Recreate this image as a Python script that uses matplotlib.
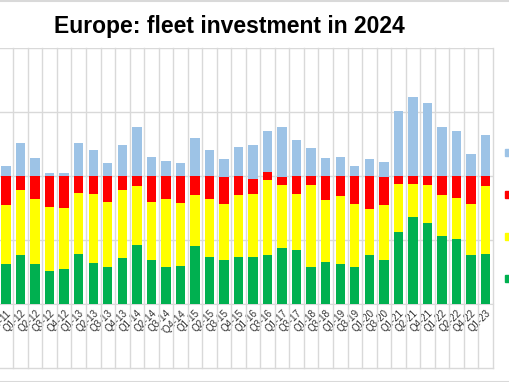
import matplotlib
matplotlib.use("Agg")
import matplotlib.pyplot as plt
import numpy as np
from matplotlib.lines import Line2D
from matplotlib.patches import Patch

plt.rcParams['font.family'] = ['Liberation Sans', 'DejaVu Sans']

# Survey quarters (one bar each)
quarters = ["Q4-11", "Q1-12", "Q2-12", "Q3-12", "Q4-12", "Q1-13", "Q2-13", "Q3-13",
            "Q4-13", "Q1-14", "Q2-14", "Q3-14", "'Q4-14", "Q1-15", "Q2-15", "Q3-15",
            "Q4-15", "Q1-16", "Q3-16", "Q1-17", "Q3-17", "Q1-18", "Q3-18", "Q1-19",
            "Q3-19", "Q1-20", "Q3-20", "Q1-21", "Q2-21", "Q4-21", "Q1-22", "Q2-22",
            "Q4-22", "Q1-23"]

# Shares in %
increase = [31, 38, 31, 26, 27, 39, 32, 29, 36, 46, 34, 29, 30, 45, 37, 34, 37,
            37, 38, 44, 42, 29, 33, 31, 29, 38, 34, 56, 68, 63, 53, 51, 38, 39]
stable = [46, 51, 51, 50, 48, 48, 54, 51, 53, 46, 46, 53, 49, 40, 45, 44, 48,
          49, 59, 49, 44, 64, 48, 53, 49, 36, 43, 38, 26, 30, 32, 32, 40, 53]
decrease = [23, 11, 18, 24, 25, 13, 14, 20, 11, 8, 20, 18, 21, 15, 18, 21, 15,
            12, 6, 6, 14, 7, 19, 16, 22, 26, 22, 6, 6, 7, 15, 17, 22, 8]
balance = [8, 26, 14, 2.5, 2, 26, 20, 10, 24, 38, 15, 12, 10, 30, 20, 14, 23,
           26, 32, 39, 28, 22, 14, 15, 7.5, 13, 12, 51, 62, 57, 38, 35, 17, 32]

c_green = "#00b050"
c_yellow = "#ffff00"
c_red = "#ff0000"
c_blue = "#9dc3e6"
c_grid = "#d9d9d9"

W, H = 510, 382
fig = plt.figure(figsize=(W / 100, H / 100), dpi=100)
# chart is cropped on the left, so the axes start just outside the figure
ax = fig.add_axes([-1.2 / W, 1 - 304 / H, 494 / W, 256 / H])

x = np.arange(len(quarters))
inc = np.array(increase, dtype=float)
sta = np.array(stable, dtype=float)
dec = np.array(decrease, dtype=float)
bal = np.array(balance, dtype=float)

bw = 0.65
ax.bar(x, inc, bw, color=c_green, zorder=3, label="Increase")
ax.bar(x, sta, bw, bottom=inc, color=c_yellow, zorder=3, label="Stable")
ax.bar(x, dec, bw, bottom=inc + sta, color=c_red, zorder=3, label="Decrease")
ax.bar(x, bal, bw, bottom=inc + sta + dec, color=c_blue, zorder=3, label="Balance")

ax.set_xlim(-0.5, len(quarters) - 0.5)
ax.set_ylim(0, 200)
# value labels of the y axis are cropped away in the source
ax.set_yticks([0, 50, 100, 150, 200])
ax.set_yticklabels([])
ax.yaxis.grid(True, color=c_grid, lw=1)
ax.set_axisbelow(True)

for s in ["left", "right", "top"]:
    ax.spines[s].set_visible(False)
ax.spines["bottom"].set_color(c_grid)

# category separators run down through the label area
low = -64 / 256
for b in np.arange(-0.5, len(quarters)):
    ax.plot([b, b], [1, low], transform=ax.get_xaxis_transform(),
            color=c_grid, lw=1, clip_on=False, zorder=1)
ax.plot([-0.5, len(quarters) - 0.5], [low, low], transform=ax.get_xaxis_transform(),
        color=c_grid, lw=1, clip_on=False, zorder=1)

ax.set_xticks(x)
ax.set_xticklabels(quarters, rotation=45, ha="right", rotation_mode="anchor",
                   fontsize=7, color="#303030")
ax.tick_params(axis="both", length=0)
ax.tick_params(axis="x", pad=3)

fig.text(229 / W, 1 - 33.5 / H, "Europe: fleet investment in 2024", ha="center",
         va="baseline", fontsize=16.5, fontweight="bold")

# legend sits on the right edge (mostly cut off)
handles = [Patch(color=c_blue, label="Balance"), Patch(color=c_red, label="Decrease"),
           Patch(color=c_yellow, label="Stable"), Patch(color=c_green, label="Increase")]
fig.legend(handles=handles, loc="upper left", bbox_to_anchor=(505 / W, 1 - 147.5 / H),
           frameon=False, fontsize=7, handlelength=0.7, handleheight=0.7,
           labelspacing=3.3, borderpad=0, borderaxespad=0, handletextpad=0.5)

# outer chart border (top and bottom visible)
fig.add_artist(Line2D([0, 1], [1 - 0.5 / H, 1 - 0.5 / H], color=c_grid, lw=1.5))
fig.add_artist(Line2D([0, 1], [0.5 / H, 0.5 / H], color=c_grid, lw=1.5))

fig.savefig("out.png", dpi=100)
